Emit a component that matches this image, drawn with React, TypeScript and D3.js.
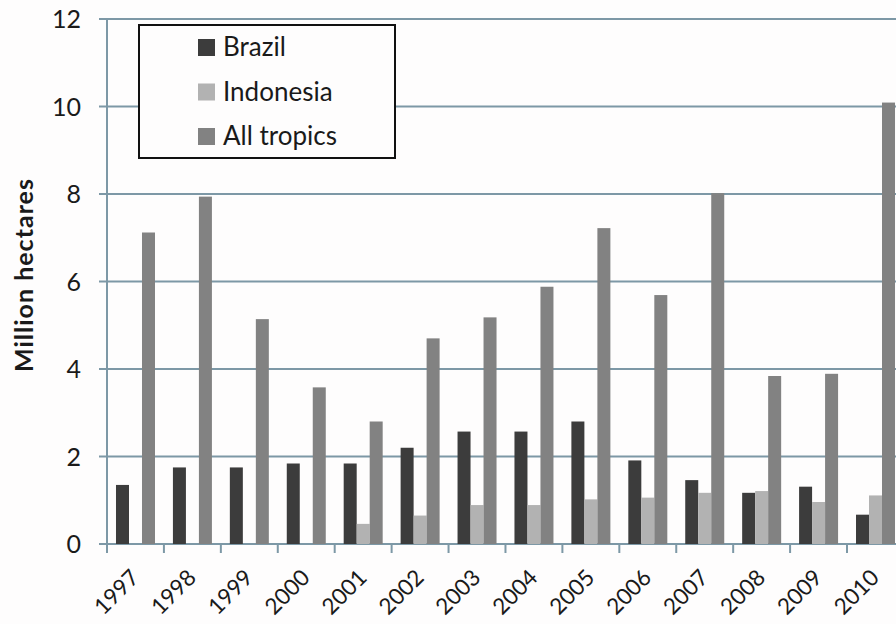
import { useEffect, useRef } from 'react'
import * as d3 from 'd3'

const years = ['1997', '1998', '1999', '2000', '2001', '2002', '2003', '2004', '2005', '2006', '2007', '2008', '2009', '2010']
const brazil = [1.35, 1.75, 1.75, 1.84, 1.84, 2.2, 2.57, 2.57, 2.8, 1.91, 1.46, 1.17, 1.31, 0.67]
const indonesia = [0, 0, 0, 0, 0.46, 0.65, 0.89, 0.89, 1.02, 1.06, 1.17, 1.21, 0.96, 1.11]
const allTropics = [7.12, 7.94, 5.14, 3.58, 2.8, 4.7, 5.18, 5.88, 7.22, 5.69, 8.02, 3.84, 3.89, 10.09]
const seriesNames = ['Brazil', 'Indonesia', 'All tropics']
const seriesColors = ['#3c3c3c', '#b2b2b2', '#828282']
const yTicks = [0, 2, 4, 6, 8, 10, 12]

const BarChart = () => {
	const svgRef = useRef(null)

	useEffect(() => {
		const width = 896
		const height = 624
		const margin = { top: 19, left: 107, bottom: 80 }
		const plotRight = 904
		const gridColor = '#7d98a6'
		const font = 'Lato, "Open Sans", sans-serif'

		const svg = d3.select(svgRef.current)
		svg.selectAll('*').remove()
		svg.attr('width', width).attr('height', height)

		svg.append('rect').attr('width', width).attr('height', height).attr('fill', '#fefdfd')

		const series = [brazil, indonesia, allTropics]

		// Scales
		const x0 = d3
			.scaleBand()
			.domain(years)
			.range([margin.left, plotRight])
			.paddingInner(0.315)
			.paddingOuter(0.158)
		const x1 = d3.scaleBand().domain(seriesNames).range([0, x0.bandwidth()])
		const y = d3
			.scaleLinear()
			.domain([0, 12])
			.range([height - margin.bottom, margin.top])

		// Gridlines with small outward tick
		svg
			.append('g')
			.selectAll('line')
			.data(yTicks)
			.enter()
			.append('line')
			.attr('x1', margin.left - 8)
			.attr('x2', width)
			.attr('y1', (d) => y(d))
			.attr('y2', (d) => y(d))
			.attr('stroke', gridColor)
			.attr('stroke-width', 2)

		// Y axis line
		svg
			.append('line')
			.attr('x1', margin.left)
			.attr('x2', margin.left)
			.attr('y1', y(12))
			.attr('y2', y(0) + 9)
			.attr('stroke', gridColor)
			.attr('stroke-width', 2)

		// X tick marks at category boundaries
		const step = x0.step()
		svg
			.append('g')
			.selectAll('line')
			.data(years)
			.enter()
			.append('line')
			.attr('x1', (d) => x0(d) - step * 0.158)
			.attr('x2', (d) => x0(d) - step * 0.158)
			.attr('y1', y(0))
			.attr('y2', y(0) + 9)
			.attr('stroke', gridColor)
			.attr('stroke-width', 2)

		// Bars
		years.forEach((yr, i) => {
			series.forEach((vals, s) => {
				if (vals[i] <= 0) return
				svg
					.append('rect')
					.attr('x', x0(yr) + x1(seriesNames[s]))
					.attr('width', x1.bandwidth())
					.attr('y', y(vals[i]))
					.attr('height', y(0) - y(vals[i]))
					.attr('fill', seriesColors[s])
			})
		})

		// Y tick labels
		svg
			.append('g')
			.selectAll('text')
			.data(yTicks)
			.enter()
			.append('text')
			.attr('x', 81)
			.attr('y', (d) => y(d))
			.attr('dy', '0.36em')
			.attr('text-anchor', 'end')
			.style('font-family', font)
			.style('font-size', '25px')
			.style('fill', '#1a1a1a')
			.text((d) => d)

		// X tick labels
		svg
			.append('g')
			.selectAll('text')
			.data(years)
			.enter()
			.append('text')
			.attr('transform', (d) => `translate(${x0(d) + x0.bandwidth() / 2 + 5},${y(0) + 35}) rotate(-45)`)
			.attr('text-anchor', 'end')
			.style('font-family', font)
			.style('font-size', '22.5px')
			.style('fill', '#1a1a1a')
			.text((d) => d)

		// Y axis title
		svg
			.append('text')
			.attr('transform', `translate(33,${275}) rotate(-90)`)
			.attr('text-anchor', 'middle')
			.style('font-family', font)
			.style('font-size', '25px')
			.style('font-weight', 'bold')
			.style('letter-spacing', '1px')
			.style('fill', '#1a1a1a')
			.text('Million hectares')

		// Legend
		const legend = svg.append('g')
		legend
			.append('rect')
			.attr('x', 139)
			.attr('y', 25)
			.attr('width', 256)
			.attr('height', 133)
			.attr('fill', '#fefdfd')
			.attr('stroke', '#111')
			.attr('stroke-width', 2)
		seriesNames.forEach((name, i) => {
			const cy = 47 + i * 44.5
			legend
				.append('rect')
				.attr('x', 198)
				.attr('y', cy - 8)
				.attr('width', 17)
				.attr('height', 17)
				.attr('fill', seriesColors[i])
			legend
				.append('text')
				.attr('x', 223)
				.attr('y', cy)
				.attr('dy', '0.36em')
				.style('font-family', font)
				.style('font-size', '26px')
				.style('fill', '#1a1a1a')
				.text(name)
		})
	}, [])

	return <svg ref={svgRef} style={{ display: 'block' }}></svg>
}

export default function App() {
	return (
		<div style={{ position: 'fixed', top: 0, left: 0 }}>
			<BarChart />
		</div>
	)
}
